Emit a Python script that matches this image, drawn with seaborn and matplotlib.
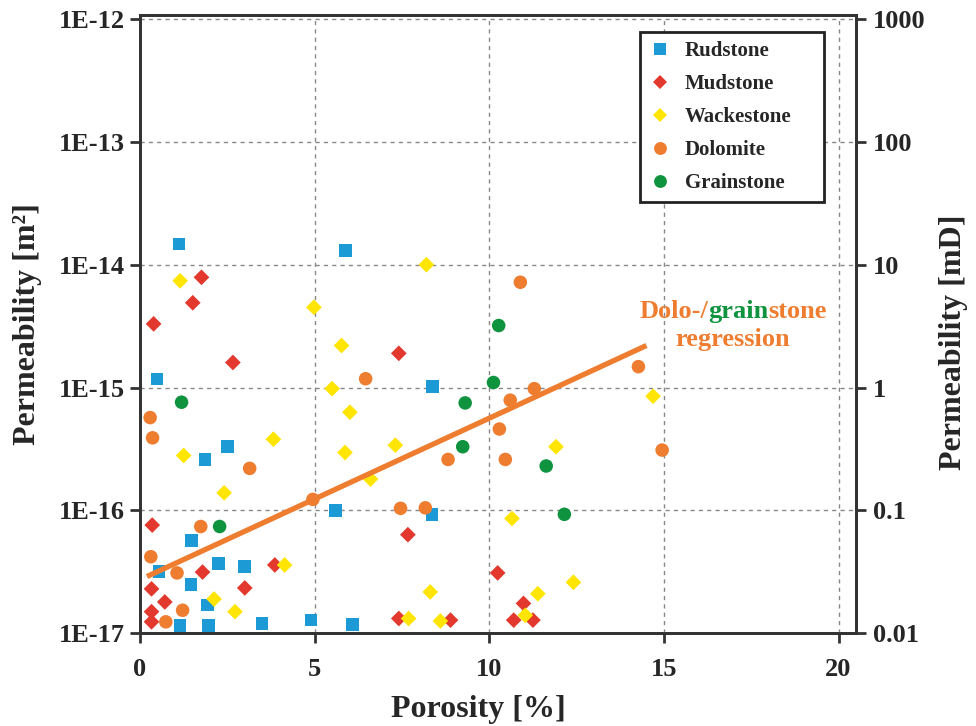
import numpy as np
import pandas as pd
import matplotlib
matplotlib.use("Agg")
import matplotlib.pyplot as plt
from matplotlib.lines import Line2D
from matplotlib.offsetbox import TextArea, HPacker, VPacker, AnnotationBbox
import seaborn as sns

# porosity [%] and permeability [m2], per facies
rud_phi = [1.12, 5.89, 0.49, 2.50, 1.86, 5.60, 1.48, 0.54, 2.24, 3.00, 1.46, 1.93, 1.15, 1.96, 3.49, 4.89, 6.08, 8.37, 8.36]
rud_k = [1.48e-14, 1.3e-14, 1.17e-15, 3.3e-16, 2.6e-16, 1.0e-16, 5.7e-17, 3.2e-17, 3.7e-17, 3.5e-17,
         2.5e-17, 1.7e-17, 1.16e-17, 1.16e-17, 1.2e-17, 1.28e-17, 1.18e-17, 1.02e-15, 9.3e-17]

mud_phi = [1.76, 1.51, 0.39, 2.66, 0.35, 1.79, 3.86, 0.33, 0.71, 3.00, 0.33, 0.33, 7.41, 7.67, 10.24, 7.41, 8.89, 10.98, 10.70, 11.25]
mud_k = [7.9e-15, 4.9e-15, 3.3e-15, 1.6e-15, 7.6e-17, 3.15e-17, 3.6e-17, 2.3e-17, 1.8e-17, 2.34e-17,
         1.5e-17, 1.24e-17, 1.9e-15, 6.35e-17, 3.1e-17, 1.32e-17, 1.28e-17, 1.75e-17, 1.28e-17, 1.28e-17]

wack_phi = [1.15, 4.98, 5.77, 5.50, 6.01, 3.82, 1.25, 5.87, 2.41, 6.60, 4.14, 2.12, 2.72, 8.20, 7.31, 11.91,
            10.65, 8.31, 11.39, 12.41, 7.69, 8.60, 11.03, 14.69]
wack_k = [7.4e-15, 4.5e-15, 2.2e-15, 9.8e-16, 6.3e-16, 3.8e-16, 2.8e-16, 2.96e-16, 1.39e-16, 1.8e-16, 3.6e-17,
          1.9e-17, 1.5e-17, 1.0e-14, 3.4e-16, 3.3e-16, 8.6e-17, 2.17e-17, 2.1e-17, 2.6e-17, 1.32e-17, 1.26e-17,
          1.4e-17, 8.5e-16]

dolo_phi = [6.46, 0.29, 0.36, 3.14, 4.95, 1.74, 0.31, 1.06, 1.22, 0.74, 10.89, 11.29, 10.60, 10.29, 10.46,
            8.82, 7.46, 8.17, 14.27, 14.95]
dolo_k = [1.18e-15, 5.7e-16, 3.9e-16, 2.2e-16, 1.23e-16, 7.4e-17, 4.2e-17, 3.1e-17, 1.54e-17, 1.24e-17,
          7.2e-15, 9.8e-16, 7.9e-16, 4.6e-16, 2.6e-16, 2.6e-16, 1.04e-16, 1.05e-16, 1.48e-15, 3.1e-16]

grain_phi = [1.19, 2.28, 10.27, 10.12, 9.31, 9.24, 11.63, 12.15]
grain_k = [7.6e-16, 7.4e-17, 3.2e-15, 1.1e-15, 7.5e-16, 3.3e-16, 2.3e-16, 9.3e-17]

# dolo-/grainstone regression line end points
reg_phi = [0.2, 14.5]
reg_k = [2.9e-17, 2.2e-15]

facies = ["Rudstone", "Mudstone", "Wackestone", "Dolomite", "Grainstone"]
colors = {"Rudstone": "#1b9ad6", "Mudstone": "#e2382d", "Wackestone": "#ffe500",
          "Dolomite": "#ef7d30", "Grainstone": "#10933f"}
markers = {"Rudstone": "s", "Mudstone": "D", "Wackestone": "D", "Dolomite": "o", "Grainstone": "o"}
sizes = {"Rudstone": 82, "Mudstone": 64, "Wackestone": 64, "Dolomite": 95, "Grainstone": 95}

frames = []
for name, phi, k in [("Rudstone", rud_phi, rud_k), ("Mudstone", mud_phi, mud_k),
                     ("Wackestone", wack_phi, wack_k), ("Dolomite", dolo_phi, dolo_k),
                     ("Grainstone", grain_phi, grain_k)]:
    frames.append(pd.DataFrame({"Porosity": phi, "Perm": k, "Facies": name}))
df = pd.concat(frames, ignore_index=True)

sns.set_style("ticks")
plt.rcParams["font.family"] = ["Liberation Serif", "DejaVu Serif"]
plt.rcParams["font.weight"] = "bold"
plt.rcParams["axes.labelweight"] = "bold"

fig = plt.figure(figsize=(9.76, 7.26), dpi=100)
ax = fig.add_axes([140 / 976, 1 - 633.3 / 726, (856 - 140) / 976, (633.3 - 15) / 726])

ax.set_yscale("log")
top = 10 ** (-12 + 4 / 122.9)
ax.set_xlim(0, 20.5)
ax.set_ylim(1e-17, top)

# grid
for xv in [5, 10, 15, 20]:
    ax.axvline(xv, color="#888888", lw=1, ls=(0, (3, 3)), zorder=0)
for yv in [1e-16, 1e-15, 1e-14, 1e-13, 1e-12]:
    ax.axhline(yv, color="#888888", lw=1, ls=(0, (3, 3)), zorder=0)

for name in facies:
    sub = df[df["Facies"] == name]
    sns.scatterplot(data=sub, x="Porosity", y="Perm", marker=markers[name], color=colors[name],
                    s=sizes[name], edgecolor="none", linewidth=0, ax=ax, legend=False, zorder=3)

ax.plot(reg_phi, reg_k, color="#ef7d30", lw=3.8, solid_capstyle="butt", zorder=4)

ax.set_xticks([0, 5, 10, 15, 20])
ax.set_xticklabels(["0", "5", "10", "15", "20"])
yt = [1e-17, 1e-16, 1e-15, 1e-14, 1e-13, 1e-12]
ax.set_yticks(yt)
ax.set_yticklabels(["1E-17", "1E-16", "1E-15", "1E-14", "1E-13", "1E-12"])
ax.minorticks_off()
ax.tick_params(axis="x", labelsize=19, length=7, width=2, color="#333333", pad=11)
ax.tick_params(axis="y", labelsize=19, length=7, width=2, color="#333333", pad=4)
for sp in ax.spines.values():
    sp.set_linewidth(2)
    sp.set_color("#333333")

ax.set_xlabel("Porosity [%]", fontsize=23, labelpad=10)
ax.xaxis.label.set_x((478 - 140) / 716)
ax.set_ylabel("Permeability [m²]", fontsize=23, labelpad=12)

# right axis in mD
ax2 = ax.twinx()
ax2.set_yscale("log")
ax2.set_ylim(1e-17 * 1e15, top * 1e15)
ax2.set_yticks([0.01, 0.1, 1, 10, 100, 1000])
ax2.set_yticklabels(["0.01", "0.1", "1", "10", "100", "1000"])
ax2.minorticks_off()
ax2.tick_params(axis="y", labelsize=19, length=7, width=2, color="#333333", pad=5)
for sp in ax2.spines.values():
    sp.set_linewidth(2)
    sp.set_color("#333333")
ax2.set_ylabel("Permeability [mD]", fontsize=23, labelpad=10)
ax2.yaxis.label.set_y((633.3 - 342) / 618.3)

# legend
handles = [Line2D([], [], ls="none", marker=markers[n], color=colors[n],
                  markersize=np.sqrt(sizes[n]) * 0.95, markeredgewidth=0) for n in facies]
x0 = (640 - 140) / 716
w = (824 - 640) / 716
leg = ax2.legend(handles, facies, loc="upper left", bbox_to_anchor=(x0, 0.5, w, 0.9725 - 0.5),
                 mode="expand", borderaxespad=0, fancybox=False, framealpha=1, edgecolor="#222222",
                 prop={"size": 15, "weight": "bold"}, labelspacing=0.62, handlelength=1.0,
                 handletextpad=0.7, borderpad=0.45)
leg.get_frame().set_linewidth(2)

# two-coloured annotation
tp_o = dict(color="#ef7d30", fontsize=19, fontweight="bold", family="Liberation Serif")
tp_g = dict(color="#10933f", fontsize=19, fontweight="bold", family="Liberation Serif")
line1 = HPacker(children=[TextArea("Dolo-/", textprops=tp_o), TextArea("grain", textprops=tp_g),
                          TextArea("stone", textprops=tp_o)], align="baseline", pad=0, sep=0)
line2 = TextArea("regression", textprops=tp_o)
box = VPacker(children=[line1, line2], align="center", pad=0, sep=4)
ab = AnnotationBbox(box, (16.98, 3.2e-15), xycoords="data", frameon=False, box_alignment=(0.5, 0.5))
ax.add_artist(ab)

fig.savefig("out.png", dpi=100)
